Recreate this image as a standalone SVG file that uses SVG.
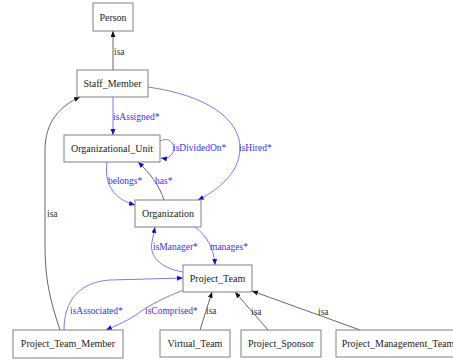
<svg xmlns="http://www.w3.org/2000/svg" width="453" height="360" viewBox="0 0 453 360">
<style>
.node rect{fill:#fff;stroke:#808080;stroke-width:1}
.node text{font-size:10px;fill:#222;text-anchor:middle}
.e{fill:none;stroke-width:0.9}
.k{stroke:#555}
.b{stroke:#6a6aff}
.lbl{font-size:9.5px}
.lk{fill:#333}
.lb{fill:#3333ee}
</style>
<defs>
<marker id="ak" markerUnits="userSpaceOnUse" markerWidth="7" markerHeight="6" refX="6" refY="2.5" orient="auto"><path d="M0,0 L6,2.5 L0,5 z" fill="#111"/></marker>
<marker id="ab" markerUnits="userSpaceOnUse" markerWidth="7" markerHeight="6" refX="6" refY="2.5" orient="auto"><path d="M0,0 L6,2.5 L0,5 z" fill="#1010dd"/></marker>
</defs>
<g id="connectors" font-family="Liberation Serif">
<path class="e k" d="M113,70 L113,31" marker-end="url(#ak)"/>
<text class="lbl lk" x="114" y="55">isa</text>
<path class="e b" d="M113,97 L113,135" marker-end="url(#ab)"/>
<text class="lbl lb" x="113" y="120">isAssigned*</text>
<path class="e b" d="M160,141 C177,133 179,161 161,158" marker-end="url(#ab)"/>
<text class="lbl lb" x="173" y="151">isDividedOn*</text>
<path class="e b" d="M148,87 C205,95 240,118 240,148 C240,170 222,188 198,200" marker-end="url(#ab)"/>
<text class="lbl lb" x="239" y="151">isHired*</text>
<path class="e b" d="M107,162 C104,185 114,199 135,205" marker-end="url(#ab)"/>
<text class="lbl lb" x="108" y="184">belongs*</text>
<path class="e k" d="M164,200 C159,185 150,173 138,162" marker-end="url(#ab)"/>
<text class="lbl lb" x="155" y="184">has*</text>
<path class="e b" d="M195,227 C206,235 214,248 215,265" marker-end="url(#ab)"/>
<text class="lbl lb" x="210" y="250">manages*</text>
<path class="e b" d="M183,272 C160,268 149,256 152,242 L155,227" marker-end="url(#ab)"/>
<text class="lbl lb" x="153" y="250">isManager*</text>
<path class="e k" d="M60,330 C50,300 45,280 45,245 L45,150 C45,122 60,106 80,97" marker-end="url(#ak)"/>
<text class="lbl lk" x="47" y="217">isa</text>
<path class="e b" d="M64,330 C64,300 80,282 110,280 L183,278" marker-end="url(#ab)"/>
<text class="lbl lb" x="70" y="314">isAssociated*</text>
<path class="e b" d="M184,290 C165,297 150,305 140,312 C130,320 115,326 106,330" marker-end="url(#ab)"/>
<text class="lbl lb" x="145" y="314">isComprised*</text>
<path class="e k" d="M200,330 L212,292" marker-end="url(#ak)"/>
<text class="lbl lk" x="206" y="314">isa</text>
<path class="e k" d="M268,330 L235,292" marker-end="url(#ak)"/>
<text class="lbl lk" x="251" y="315">isa</text>
<path class="e k" d="M360,330 L252,291" marker-end="url(#ak)"/>
<text class="lbl lk" x="318" y="315">isa</text>
</g>
<g font-family="Times New Roman, serif">
<g id="Person" class="node"><rect x="93" y="3" width="40" height="28"/><text x="113" y="20.5">Person</text></g>
<g id="Staff_Member" class="node"><rect x="77" y="70" width="71" height="27"/><text x="112.5" y="87">Staff_Member</text></g>
<g id="Organizational_Unit" class="node"><rect x="64" y="135" width="96" height="27"/><text x="112" y="152">Organizational_Unit</text></g>
<g id="Organization" class="node"><rect x="135" y="200" width="66" height="27"/><text x="168" y="217">Organization</text></g>
<g id="Project_Team" class="node"><rect x="183" y="265" width="69" height="27"/><text x="217.5" y="282">Project_Team</text></g>
<g id="Project_Team_Member" class="node"><rect x="13" y="330" width="110" height="28"/><text x="68" y="347">Project_Team_Member</text></g>
<g id="Virtual_Team" class="node"><rect x="160" y="330" width="70" height="27"/><text x="195" y="347">Virtual_Team</text></g>
<g id="Project_Sponsor" class="node"><rect x="241" y="330" width="80" height="27"/><text x="281" y="347">Project_Sponsor</text></g>
<g id="Project_Management_Team" class="node"><rect x="336" y="330" width="124" height="27"/><text x="398" y="347">Project_Management_Team</text></g>
</g>
</svg>
